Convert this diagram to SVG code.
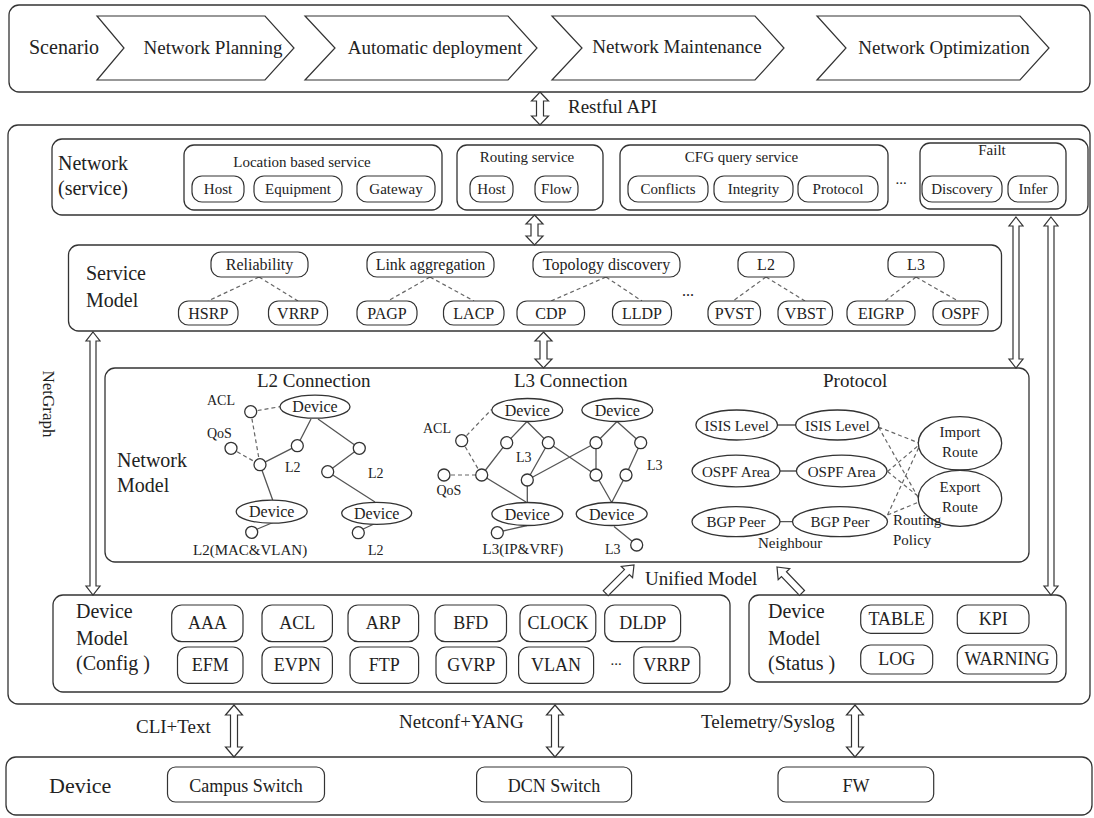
<svg xmlns="http://www.w3.org/2000/svg" width="1094" height="818" viewBox="0 0 1094 818">
<style>
.t{font-family:"Liberation Serif","Times New Roman",serif;fill:#222}
.box{fill:none;stroke:#333;stroke-width:1.3}
.pill{fill:#fff;stroke:#333;stroke-width:1.2}
.chev{fill:#fff;stroke:#333;stroke-width:1.2}
.arr{fill:#fff;stroke:#333;stroke-width:1.2}
.ln{stroke:#555;stroke-width:1.3;fill:none}
.dash{stroke:#666;stroke-width:1.2;stroke-dasharray:4 3;fill:none}
.nd{fill:#fff;stroke:#333;stroke-width:1.3}
.m{text-anchor:middle}
</style>
<rect width="1094" height="818" fill="#fff"/>

<g id="scenario">
<rect class="box" x="9" y="5" width="1081" height="87" rx="10"/>
<text class="t" x="29" y="54" font-size="20">Scenario</text>
<polygon class="chev" points="97,16 265,16 294,48 265,80 97,80 124,48"/>
<text class="t m" x="213" y="54" font-size="19">Network Planning</text>
<polygon class="chev" points="305,16 508,16 537,48 508,80 305,80 335,48"/>
<text class="t m" x="435" y="54" font-size="19">Automatic deployment</text>
<polygon class="chev" points="552,16 755,16 784,48 755,80 552,80 582,48"/>
<text class="t m" x="677" y="53" font-size="19">Network Maintenance</text>
<polygon class="chev" points="817,16 1020,16 1049,48 1020,80 817,80 846,48"/>
<text class="t m" x="944" y="54" font-size="19">Network Optimization</text>
</g>

<g id="netgraph">
<rect class="box" x="8" y="125" width="1082" height="579" rx="10"/>
<text class="t m" transform="translate(43,404) rotate(90)" font-size="17">NetGraph</text>
</g>

<g id="network-service">
<rect class="box" x="52" y="139" width="1036" height="76" rx="10"/>
<text class="t" x="58" y="170" font-size="20">Network</text>
<text class="t" x="58" y="195" font-size="20">(service)</text>
<rect class="box" x="184" y="145" width="258" height="65" rx="10"/>
<text class="t m" x="302" y="167" font-size="15">Location based service</text>
<rect class="pill" x="192" y="176" width="52" height="26" rx="10"/><text class="t m" x="218" y="194" font-size="15">Host</text>
<rect class="pill" x="254" y="176" width="88" height="26" rx="10"/><text class="t m" x="298" y="194" font-size="15">Equipment</text>
<rect class="pill" x="357" y="176" width="78" height="26" rx="10"/><text class="t m" x="396" y="194" font-size="15">Gateway</text>
<rect class="box" x="457" y="145" width="146" height="65" rx="10"/>
<text class="t m" x="527" y="162" font-size="15">Routing service</text>
<rect class="pill" x="470" y="176" width="43" height="26" rx="10"/><text class="t m" x="491.5" y="194" font-size="15">Host</text>
<rect class="pill" x="535" y="176" width="43" height="26" rx="10"/><text class="t m" x="556.5" y="194" font-size="15">Flow</text>
<rect class="box" x="620" y="145" width="268" height="65" rx="10"/>
<text class="t m" x="741.5" y="162" font-size="15">CFG query service</text>
<rect class="pill" x="628" y="176" width="80" height="26" rx="10"/><text class="t m" x="668" y="194" font-size="15">Conflicts</text>
<rect class="pill" x="714" y="176" width="79" height="26" rx="10"/><text class="t m" x="753.5" y="194" font-size="15">Integrity</text>
<rect class="pill" x="798" y="176" width="80" height="26" rx="10"/><text class="t m" x="838" y="194" font-size="15">Protocol</text>
<text class="t m" x="901" y="184" font-size="15">...</text>
<rect class="box" x="920" y="143" width="146" height="66" rx="10"/>
<text class="t m" x="992" y="155" font-size="15">Failt</text>
<rect class="pill" x="922" y="176" width="80" height="26" rx="10"/><text class="t m" x="962" y="194" font-size="15">Discovery</text>
<rect class="pill" x="1008" y="176" width="50" height="26" rx="10"/><text class="t m" x="1033" y="194" font-size="15">Infer</text>
</g>

<g id="service-model">
<rect class="box" x="68.5" y="245" width="933" height="86" rx="10"/>
<text class="t" x="86" y="280" font-size="20">Service</text>
<text class="t" x="86" y="307" font-size="20">Model</text>
<g class="sm-dash">
<path class="dash" d="M259 277L208 301M259 277L298 301M430 277L388 301M430 277L474 301M606 277L551 301M606 277L642 301M766 277L733 301M766 277L805 301M916 277L885 301M916 277L958 301"/>
</g>
<rect class="pill" x="211" y="252" width="97" height="25" rx="10"/><text class="t m" x="259.5" y="270" font-size="16">Reliability</text>
<rect class="pill" x="367" y="252" width="127" height="25" rx="10"/><text class="t m" x="430.5" y="270" font-size="16">Link aggregation</text>
<rect class="pill" x="533" y="252" width="147" height="25" rx="10"/><text class="t m" x="606.5" y="270" font-size="16">Topology discovery</text>
<rect class="pill" x="738" y="252" width="56" height="25" rx="10"/><text class="t m" x="766" y="270" font-size="16">L2</text>
<rect class="pill" x="888" y="252" width="56" height="25" rx="10"/><text class="t m" x="916" y="270" font-size="16">L3</text>
<rect class="pill" x="178.5" y="301" width="59.5" height="24" rx="10"/><text class="t m" x="208.3" y="319" font-size="16">HSRP</text>
<rect class="pill" x="268.5" y="301" width="59" height="24" rx="10"/><text class="t m" x="298" y="319" font-size="16">VRRP</text>
<rect class="pill" x="357" y="301" width="60" height="24" rx="10"/><text class="t m" x="387" y="319" font-size="16">PAGP</text>
<rect class="pill" x="443.5" y="301" width="60.5" height="24" rx="10"/><text class="t m" x="473.8" y="319" font-size="16">LACP</text>
<rect class="pill" x="517" y="301" width="67.5" height="24" rx="10"/><text class="t m" x="550.8" y="319" font-size="16">CDP</text>
<rect class="pill" x="612.5" y="301" width="59" height="24" rx="10"/><text class="t m" x="642" y="319" font-size="16">LLDP</text>
<text class="t m" x="688" y="296" font-size="16">...</text>
<rect class="pill" x="708" y="301" width="52.5" height="24" rx="10"/><text class="t m" x="734.3" y="319" font-size="16">PVST</text>
<rect class="pill" x="778" y="301" width="54.5" height="24" rx="10"/><text class="t m" x="805.3" y="319" font-size="16">VBST</text>
<rect class="pill" x="847" y="301" width="68" height="24" rx="10"/><text class="t m" x="881" y="319" font-size="16">EIGRP</text>
<rect class="pill" x="933" y="301" width="55" height="24" rx="10"/><text class="t m" x="960.5" y="319" font-size="16">OSPF</text>
</g>

<g id="network-model">
<rect class="box" x="105" y="368" width="924" height="194" rx="10"/>
<text class="t" x="117" y="467" font-size="20">Network</text>
<text class="t" x="117" y="492" font-size="20">Model</text>
</g>

<g id="l2-connection">
<text class="t" x="257" y="387" font-size="19">L2 Connection</text>
<path class="ln" d="M260 464.7L297.3 445.7M297.3 445.7L311 419M318 419L359.3 448.3M359.3 448.3L327.7 471.7M327.7 471.7L375 502M260 464.7L272.7 500M255 530L273 522.5M361 530L374 524"/>
<path class="dash" d="M250.7 411.7L280 406.7M250.7 411.7L260 464.7M231 448.3L260 464.7"/>
<ellipse class="nd" cx="315" cy="406.7" rx="35" ry="11.5"/><text class="t m" x="315" y="412" font-size="16">Device</text>
<ellipse class="nd" cx="271.7" cy="511.7" rx="35.5" ry="11.5"/><text class="t m" x="271.7" y="517" font-size="16">Device</text>
<ellipse class="nd" cx="376.7" cy="513.3" rx="35" ry="11"/><text class="t m" x="376.7" y="518.6" font-size="16">Device</text>
<circle class="nd" cx="250.7" cy="411.7" r="6"/>
<circle class="nd" cx="231" cy="448.3" r="6"/>
<circle class="nd" cx="260" cy="464.7" r="6"/>
<circle class="nd" cx="297.3" cy="445.7" r="6"/>
<circle class="nd" cx="359.3" cy="448.3" r="6"/>
<circle class="nd" cx="327.7" cy="471.7" r="6"/>
<circle class="nd" cx="251.7" cy="532.3" r="6"/>
<circle class="nd" cx="358.3" cy="532.7" r="6"/>
<text class="t" x="207" y="405" font-size="14">ACL</text>
<text class="t" x="207" y="438" font-size="14">QoS</text>
<text class="t" x="285" y="472" font-size="14">L2</text>
<text class="t" x="368" y="478" font-size="14">L2</text>
<text class="t" x="193" y="555" font-size="15">L2(MAC&amp;VLAN)</text>
<text class="t" x="368" y="555" font-size="14">L2</text>
</g>

<g id="l3-connection">
<text class="t" x="514" y="387" font-size="19">L3 Connection</text>
<path class="ln" d="M527 421.5L506.7 442.7M527 421.5L548.3 442.7M506.7 442.7L481.7 475M481.7 475L526 502M548.3 442.7L527.3 480M527.3 480L527.3 502.5M548.3 442.7L596 475M617 421.5L596 442.7M617 421.5L640.7 442.7M596 442.7L527.3 480M596 442.7L596 475M640.7 442.7L626 475M596 475L611.7 502.5M626 475L611.7 502.5M501 531.5L527 525.5M636.7 545L614 526.5"/>
<path class="dash" d="M461.7 440.7L491.7 409.3M461.7 440.7L481.7 475M444 475L481.7 475"/>
<ellipse class="nd" cx="527.3" cy="410" rx="35.5" ry="11.5"/><text class="t m" x="527.3" y="415.5" font-size="16">Device</text>
<ellipse class="nd" cx="617.3" cy="410" rx="35.5" ry="11.5"/><text class="t m" x="617.3" y="415.5" font-size="16">Device</text>
<ellipse class="nd" cx="527.3" cy="514" rx="35.5" ry="11.5"/><text class="t m" x="527.3" y="519.5" font-size="16">Device</text>
<ellipse class="nd" cx="611.7" cy="514" rx="35.5" ry="11.5"/><text class="t m" x="611.7" y="519.5" font-size="16">Device</text>
<circle class="nd" cx="461.7" cy="440.7" r="6"/>
<circle class="nd" cx="444" cy="475" r="6"/>
<circle class="nd" cx="481.7" cy="475" r="6"/>
<circle class="nd" cx="506.7" cy="442.7" r="6"/>
<circle class="nd" cx="548.3" cy="442.7" r="6"/>
<circle class="nd" cx="527.3" cy="480" r="6"/>
<circle class="nd" cx="596" cy="442.7" r="6"/>
<circle class="nd" cx="640.7" cy="442.7" r="6"/>
<circle class="nd" cx="596" cy="475" r="6"/>
<circle class="nd" cx="626" cy="475" r="6"/>
<circle class="nd" cx="497.3" cy="532.7" r="6"/>
<circle class="nd" cx="636.7" cy="545" r="6"/>
<text class="t" x="423" y="433" font-size="14">ACL</text>
<text class="t" x="436.5" y="495" font-size="14">QoS</text>
<text class="t" x="516" y="462" font-size="14">L3</text>
<text class="t" x="647" y="470" font-size="14">L3</text>
<text class="t" x="482.5" y="553.5" font-size="15">L3(IP&amp;VRF)</text>
<text class="t" x="605" y="553.5" font-size="14">L3</text>
</g>

<g id="protocol">
<text class="t" x="823" y="387" font-size="19">Protocol</text>
<path class="ln" d="M777.5 425L796 425M780 471L796.5 471M780 521.7L792.5 521.7"/>
<path class="dash" d="M878.5 427L919 443M878.5 427L919 499M887.5 471.5L919 445M887.5 471.5L919 497M887.5 515L919 447M887.5 515L919 502"/>
<ellipse class="nd" cx="736.7" cy="425" rx="40.8" ry="15"/><text class="t m" x="736.7" y="430.5" font-size="15">ISIS Level</text>
<ellipse class="nd" cx="837.3" cy="425" rx="41.7" ry="15"/><text class="t m" x="837.3" y="430.5" font-size="15">ISIS Level</text>
<ellipse class="nd" cx="736" cy="471" rx="44" ry="15.8"/><text class="t m" x="736" y="476.5" font-size="15">OSPF Area</text>
<ellipse class="nd" cx="841.7" cy="471" rx="45.3" ry="15.8"/><text class="t m" x="841.7" y="476.5" font-size="15">OSPF Area</text>
<ellipse class="nd" cx="736" cy="521.7" rx="44" ry="15"/><text class="t m" x="736" y="527" font-size="15">BGP Peer</text>
<ellipse class="nd" cx="840" cy="521.7" rx="47.5" ry="15"/><text class="t m" x="840" y="527" font-size="15">BGP Peer</text>
<ellipse class="nd" cx="960" cy="443.3" rx="41.7" ry="26.7"/>
<text class="t m" x="960" y="437" font-size="15">Import</text><text class="t m" x="960" y="457" font-size="15">Route</text>
<ellipse class="nd" cx="960" cy="498.3" rx="41.7" ry="28"/>
<text class="t m" x="960" y="492" font-size="15">Export</text><text class="t m" x="960" y="512" font-size="15">Route</text>
<text class="t" x="893" y="525" font-size="15">Routing</text>
<text class="t" x="893" y="545" font-size="15">Policy</text>
<text class="t" x="758" y="548" font-size="15">Neighbour</text>
</g>

<g id="device-model-config">
<rect class="box" x="53" y="595" width="677" height="97" rx="10"/>
<text class="t" x="76" y="618" font-size="20">Device</text>
<text class="t" x="76" y="645" font-size="20">Model</text>
<text class="t" x="76" y="670" font-size="20">(Config )</text>
<rect class="pill" x="171.7" y="605" width="71.3" height="36.7" rx="10"/><text class="t m" x="207.4" y="629" font-size="18">AAA</text>
<rect class="pill" x="262" y="605" width="70.4" height="36.7" rx="10"/><text class="t m" x="297.2" y="629" font-size="18">ACL</text>
<rect class="pill" x="348" y="605" width="70.6" height="36.7" rx="10"/><text class="t m" x="383.3" y="629" font-size="18">ARP</text>
<rect class="pill" x="435" y="605" width="71.5" height="36.7" rx="10"/><text class="t m" x="470.8" y="629" font-size="18">BFD</text>
<rect class="pill" x="520" y="605" width="75.8" height="36.7" rx="10"/><text class="t m" x="557.9" y="629" font-size="18">CLOCK</text>
<rect class="pill" x="604.7" y="605" width="75.9" height="36.7" rx="10"/><text class="t m" x="642.7" y="629" font-size="18">DLDP</text>
<rect class="pill" x="177.5" y="647" width="65.5" height="36.3" rx="10"/><text class="t m" x="210.3" y="671" font-size="18">EFM</text>
<rect class="pill" x="262" y="647" width="70.4" height="36.3" rx="10"/><text class="t m" x="297.2" y="671" font-size="18">EVPN</text>
<rect class="pill" x="350" y="647" width="68.6" height="36.3" rx="10"/><text class="t m" x="384.3" y="671" font-size="18">FTP</text>
<rect class="pill" x="436" y="647" width="70.5" height="36.3" rx="10"/><text class="t m" x="471.3" y="671" font-size="18">GVRP</text>
<rect class="pill" x="518.6" y="647" width="75" height="36.3" rx="10"/><text class="t m" x="556.1" y="671" font-size="18">VLAN</text>
<text class="t m" x="616" y="665" font-size="15">...</text>
<rect class="pill" x="633.8" y="647" width="66" height="36.3" rx="10"/><text class="t m" x="666.8" y="671" font-size="18">VRRP</text>
</g>

<g id="device-model-status">
<rect class="box" x="749" y="595" width="317" height="87" rx="10"/>
<text class="t" x="768" y="618" font-size="20">Device</text>
<text class="t" x="768" y="645" font-size="20">Model</text>
<text class="t" x="768" y="670" font-size="20">(Status )</text>
<rect class="pill" x="860.7" y="605" width="72" height="28.3" rx="10"/><text class="t m" x="896.7" y="625" font-size="18">TABLE</text>
<rect class="pill" x="957.3" y="605" width="71.7" height="28.3" rx="10"/><text class="t m" x="993.2" y="625" font-size="18">KPI</text>
<rect class="pill" x="860.7" y="645" width="72" height="29" rx="10"/><text class="t m" x="896.7" y="665" font-size="18">LOG</text>
<rect class="pill" x="957.3" y="645" width="99.4" height="29" rx="10"/><text class="t m" x="1007" y="665" font-size="18">WARNING</text>
</g>

<g id="device">
<rect class="box" x="6" y="757" width="1086" height="58" rx="10"/>
<text class="t" x="49" y="793" font-size="22">Device</text>
<rect class="pill" x="167.5" y="767" width="157" height="35" rx="8"/><text class="t m" x="246" y="792" font-size="18">Campus Switch</text>
<rect class="pill" x="476.6" y="767" width="155" height="35" rx="8"/><text class="t m" x="554" y="792" font-size="18">DCN Switch</text>
<rect class="pill" x="778" y="767" width="155.7" height="35" rx="8"/><text class="t m" x="856" y="792" font-size="18">FW</text>
</g>

<g id="connectors">
<path class="arr" d="M540 92L548.5 101L543.5 101L543.5 116L548.5 116L540 125L531.5 116L536.5 116L536.5 101L531.5 101Z"/>
<path class="arr" d="M534.5 215L543 224L538 224L538 236L543 236L534.5 245L526 236L531 236L531 224L526 224Z"/>
<path class="arr" d="M543.5 332L552 341L547 341L547 359L552 359L543.5 368L535 359L540 359L540 341L535 341Z"/>
<path class="arr" d="M1016 217L1023 226L1019 226L1019 359L1023 359L1016 368L1009 359L1013 359L1013 226L1009 226Z"/>
<path class="arr" d="M1051 217L1058 226L1054 226L1054 586L1058 586L1051 595L1044 586L1048 586L1048 226L1044 226Z"/>
<path class="arr" d="M93 332L100 341L96 341L96 586L100 586L93 595L86 586L90 586L90 341L86 341Z"/>
<path class="arr" d="M234 705L242.5 715L237.5 715L237.5 747L242.5 747L234 757L225.5 747L230.5 747L230.5 715L225.5 715Z"/>
<path class="arr" d="M555 705L563.5 715L558.5 715L558.5 747L563.5 747L555 757L546.5 747L551.5 747L551.5 715L546.5 715Z"/>
<path class="arr" d="M855 705L863.5 715L858.5 715L858.5 747L863.5 747L855 757L846.5 747L851.5 747L851.5 715L846.5 715Z"/>
<path class="arr" transform="translate(634,565) rotate(45)" d="M0 0L8 10L3.5 10L3.5 40L-3.5 40L-3.5 10L-8 10Z"/>
<path class="arr" transform="translate(777,567) rotate(-44)" d="M0 0L8 10L3.5 10L3.5 36L-3.5 36L-3.5 10L-8 10Z"/>
<text class="t" x="568" y="113" font-size="19">Restful API</text>
<text class="t" x="645" y="585" font-size="19">Unified Model</text>
<text class="t" x="136" y="733" font-size="19">CLI+Text</text>
<text class="t" x="399" y="728" font-size="19">Netconf+YANG</text>
<text class="t" x="701" y="728" font-size="19">Telemetry/Syslog</text>
</g>
</svg>
